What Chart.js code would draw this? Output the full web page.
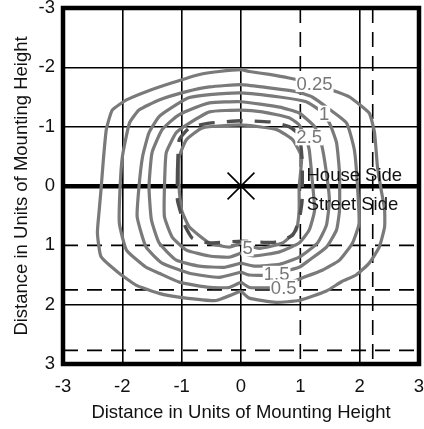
<!DOCTYPE html>
<html><head><meta charset="utf-8">
<script src="https://cdn.jsdelivr.net/npm/chart.js@4.4.1/dist/chart.umd.min.js"></script>
<style>html,body{margin:0;padding:0;background:#fff;}#wrap{width:424px;height:429px;}</style>
</head><body><div id="wrap"><canvas id="c" width="424" height="429"></canvas></div>
<script>
// ---- data (units of mounting height) ----
const xTicks = [-3, -2, -1, 0, 1, 2, 3];
const yTicks = [-3, -2, -1, 0, 1, 2, 3];
const levels = ['0.25', '0.5', '1', '1.5', '2.5', '5'];
const c025 = [[0,1.77],[-0.42,1.93],[-0.99,1.88],[-1.38,1.81],[-1.77,1.67],[-2.08,1.45],[-2.36,1.19],[-2.42,0.79],[-2.39,0.41],[-2.36,0.07],[-2.32,-0.44],[-2.27,-0.95],[-2.17,-1.28],[-1.93,-1.45],[-1.60,-1.59],[-1.16,-1.74],[-0.70,-1.88],[-0.37,-1.93],[0,-1.96],[0.14,-1.93],[0.48,-1.88],[0.81,-1.82],[1.24,-1.72],[1.61,-1.59],[1.83,-1.50],[2.16,-1.23],[2.25,-0.90],[2.30,-0.32],[2.36,0.05],[2.42,0.40],[2.42,0.69],[2.33,1.03],[2.16,1.30],[1.94,1.50],[1.70,1.61],[1.44,1.77],[0.98,1.93],[0.59,1.96],[0.14,1.89],[0,1.77]];
const c05 = [[0,1.62],[-0.20,1.71],[-0.53,1.71],[-1.04,1.62],[-1.38,1.47],[-1.60,1.37],[-1.93,1.08],[-2.05,0.63],[-2.04,0.07],[-2.00,-0.49],[-1.88,-1.06],[-1.72,-1.28],[-1.38,-1.45],[-0.92,-1.59],[-0.53,-1.67],[0,-1.71],[0.36,-1.67],[0.93,-1.59],[1.20,-1.50],[1.44,-1.33],[1.78,-1.06],[1.91,-0.61],[1.96,-0.05],[1.99,0.63],[1.88,0.96],[1.66,1.25],[1.37,1.42],[1.03,1.55],[0.60,1.71],[0.14,1.71],[0,1.62]];
const c1 = [[0,1.45],[-0.37,1.54],[-0.87,1.47],[-1.33,1.30],[-1.60,1.03],[-1.75,0.52],[-1.72,0.02],[-1.66,-0.49],[-1.55,-0.90],[-1.38,-1.17],[-1.09,-1.37],[-0.87,-1.49],[-0.53,-1.54],[0,-1.57],[0.65,-1.50],[1.10,-1.42],[1.32,-1.28],[1.49,-1.06],[1.61,-0.73],[1.66,-0.22],[1.66,0.41],[1.61,0.74],[1.44,1.03],[1.15,1.25],[0.98,1.37],[0.48,1.50],[0.14,1.50],[0,1.45]];
const c15 = [[0,1.30],[-0.28,1.37],[-0.70,1.35],[-1.09,1.25],[-1.38,0.96],[-1.51,0.57],[-1.55,0.02],[-1.50,-0.56],[-1.33,-0.95],[-1.09,-1.17],[-0.87,-1.28],[-0.53,-1.40],[0,-1.42],[0.65,-1.33],[0.98,-1.23],[1.24,-1.00],[1.36,-0.69],[1.44,-0.22],[1.49,0.24],[1.44,0.66],[1.29,0.96],[0.98,1.20],[0.65,1.32],[0.22,1.35],[0,1.30]];
const c25 = [[0,1.13],[-0.20,1.20],[-0.53,1.18],[-0.92,1.08],[-1.16,0.86],[-1.29,0.52],[-1.29,0.02],[-1.26,-0.56],[-1.09,-0.90],[-0.87,-1.06],[-0.53,-1.25],[0,-1.28],[0.36,-1.25],[0.81,-1.15],[0.98,-1.03],[1.10,-0.78],[1.15,-0.61],[1.20,-0.10],[1.24,0.41],[1.15,0.74],[0.98,0.96],[0.65,1.11],[0.22,1.18],[0,1.13]];
const c5 = [[0,0.96],[-0.20,1.03],[-0.53,0.96],[-0.87,0.69],[-1.00,0.41],[-1.04,0.07],[-1.04,-0.49],[-0.92,-0.78],[-0.65,-0.98],[0,-1.03],[0.60,-0.95],[0.87,-0.78],[1.02,-0.49],[0.98,0.02],[0.98,0.41],[0.93,0.74],[0.70,0.96],[0.31,1.05],[0,0.96]];
const maxCandle = [[-1.07,-0.27],[-1.04,-0.78],[-0.87,-0.98],[-0.53,-1.06],[0,-1.10],[0.48,-1.08],[0.81,-1.00],[0.98,-0.86],[1.03,-0.44],[1.03,0.24],[0.98,0.57],[0.87,0.83],[0.56,0.95],[0,0.93],[-0.53,0.96],[-0.82,0.88],[-0.95,0.66],[-1.07,0.24],[-1.07,-0.27]];
const refX = [1, 2.22];
const refY = [1, 1.75, 2.77];
const luminaire = [[0, 0]];

// ---- annotation placement (separate from data) ----
const annotations = [
  {text:'0.25', x:1.24, y:-1.72, color:'#777', bg:true},
  {text:'1', x:1.40, y:-1.22, color:'#777', bg:true},
  {text:'2.5', x:1.15, y:-0.82, color:'#777', bg:true},
  {text:'5', x:0.11, y:1.05, color:'#777', bg:true},
  {text:'1.5', x:0.60, y:1.48, color:'#777', bg:true},
  {text:'0.5', x:0.72, y:1.71, color:'#777', bg:true},
  {text:'House Side', x:1.91, y:-0.19, color:'#111', bg:false},
  {text:'Street Side', x:1.88, y:0.31, color:'#111', bg:false}
];

const FONT = '"Liberation Sans", Arial, sans-serif';
const pts = a => a.map(p => ({x:p[0], y:p[1]}));
const contours = [c025, c05, c1, c15, c25, c5];
const datasets = [];
refX.forEach(v => datasets.push({data:[{x:v,y:-3},{x:v,y:3}], showLine:true, pointRadius:0, borderColor:'#000', borderWidth:1.6, borderDash:[15,9], order:10}));
refY.forEach(v => datasets.push({data:[{x:-3,y:v},{x:3,y:v}], showLine:true, pointRadius:0, borderColor:'#000', borderWidth:1.6, borderDash:[15,9], order:10}));
contours.forEach((c,i) => datasets.push({label:levels[i], data:pts(c), showLine:true, pointRadius:0, borderColor:'#7a7a7a', borderWidth:3.2, tension:0.15, order:2}));
datasets.push({data:pts(maxCandle), showLine:true, pointRadius:0, borderColor:'#4f4f4f', borderWidth:3.4, borderDash:[16,12], tension:0.15, order:1});
datasets.push({data:pts(luminaire), showLine:false, pointStyle:'crossRot', pointRadius:19, pointHoverRadius:19, borderColor:'#000', borderWidth:1.6, backgroundColor:'#000', order:0});

const overlay = {
  id:'overlay',
  afterDatasetsDraw(chart){
    const {ctx, chartArea:ca, scales:{x, y}} = chart;
    ctx.save();
    annotations.forEach(a => {
      ctx.font = `18.5px ${FONT}`;
      const px = x.getPixelForValue(a.x), py = y.getPixelForValue(a.y);
      const w = ctx.measureText(a.text).width;
      if (a.bg) { ctx.fillStyle = '#fff'; ctx.fillRect(px - w/2 - 1, py - 8, w + 2, 16); }
      ctx.fillStyle = a.color; ctx.textAlign = 'center'; ctx.textBaseline = 'middle';
      ctx.fillText(a.text, px, py + 1);
    });
    ctx.lineWidth = 4.5; ctx.strokeStyle = '#000';
    ctx.strokeRect(ca.left, ca.top, ca.right - ca.left, ca.bottom - ca.top);
    ctx.restore();
  }
};

new Chart(document.getElementById('c'), {
  type:'scatter',
  data:{datasets},
  options:{
    responsive:false, animation:false, events:[],
    layout:{autoPadding:false, padding:{left:0, right:5, top:8, bottom:0}},
    plugins:{legend:{display:false}, tooltip:{enabled:false}},
    scales:{
      x:{type:'linear', min:-3, max:3,
        afterBuildTicks: s => { s.ticks = xTicks.map(v => ({value:v})); },
        afterFit: s => { s.height = 65; s.paddingLeft = 0; s.paddingRight = 0; },
        border:{display:false},
        grid:{drawTicks:false, color: c => c.tick && c.tick.value === 1 ? 'rgba(0,0,0,0)' : '#000', lineWidth:1.6},
        ticks:{padding:12, color:'#111', font:{size:18.5, family:FONT}},
        title:{display:true, text:'Distance in Units of Mounting Height', color:'#111', font:{size:18.5, family:FONT}, padding:{top:0, bottom:5}}
      },
      y:{type:'linear', min:-3, max:3, reverse:true,
        afterBuildTicks: s => { s.ticks = yTicks.map(v => ({value:v})); },
        afterFit: s => { s.width = 63; s.paddingTop = 0; s.paddingBottom = 0; },
        border:{display:false},
        grid:{drawTicks:false, color: c => c.tick && c.tick.value === 1 ? 'rgba(0,0,0,0)' : '#000', lineWidth: c => c.tick && c.tick.value === 0 ? 4.5 : 1.6},
        ticks:{padding:8, color:'#111', font:{size:18.5, family:FONT}},
        title:{display:true, text:'Distance in Units of Mounting Height', color:'#111', font:{size:18.5, family:FONT}, padding:{top:11, bottom:0}}
      }
    }
  },
  plugins:[overlay]
});
</script>
</body></html>
